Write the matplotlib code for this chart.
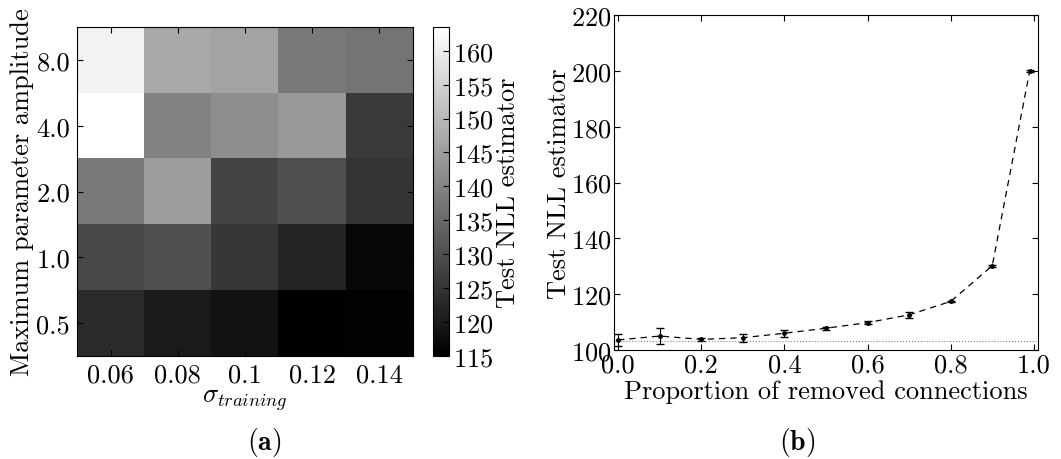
import numpy as np
import matplotlib
matplotlib.use("Agg")
import matplotlib.pyplot as plt

plt.rcParams['font.family'] = 'serif'
plt.rcParams['font.serif'] = ['cmr10']
plt.rcParams['mathtext.fontset'] = 'cm'
plt.rcParams['axes.formatter.use_mathtext'] = True
plt.rcParams['font.size'] = 19

# heatmap data (rows top->bottom: 8.0, 4.0, 2.0, 1.0, 0.5)
sigmas = ['0.06', '0.08', '0.1', '0.12', '0.14']
amplitudes = ['8.0', '4.0', '2.0', '1.0', '0.5']
nll_grid = [
    [161.0, 147.0, 146.0, 138.0, 137.0],
    [163.5, 140.0, 142.0, 144.0, 126.0],
    [138.0, 145.0, 128.0, 130.0, 125.0],
    [128.5, 130.0, 125.5, 122.0, 116.5],
    [123.0, 120.0, 118.5, 115.0, 115.5],
]

# pruning data
removed = [0.0, 0.1, 0.2, 0.3, 0.4, 0.5, 0.6, 0.7, 0.8, 0.9, 0.99]
nll_mean = [103.6, 105.0, 103.8, 104.4, 106.0, 107.8, 109.8, 112.6, 117.4, 130.2, 199.9]
nll_err = [2.1, 3.0, 0.5, 1.4, 1.3, 0.5, 0.5, 1.0, 0.3, 0.3, 0.3]
baseline = 103.4

fig = plt.figure(figsize=(10.61, 4.6), dpi=100)

# (a) heatmap
ax1 = fig.add_axes([77/1061, 1-357/460, 336/1061, 329/460])
im = ax1.imshow(np.array(nll_grid), cmap='gray', vmin=115, vmax=163.5,
                interpolation='nearest', aspect='auto')
ax1.set_xticks(range(len(sigmas)))
ax1.set_xticklabels(sigmas)
ax1.set_yticks(range(len(amplitudes)))
ax1.set_yticklabels(amplitudes)
ax1.set_xlabel(r'$\sigma_{training}$', labelpad=0)
ax1.set_ylabel('Maximum parameter amplitude', labelpad=2)
ax1.tick_params(direction='in', top=True, right=True, length=4, pad=5)

cax = fig.add_axes([433/1061, 1-357/460, 16/1061, 329/460])
cb = fig.colorbar(im, cax=cax, ticks=np.arange(115, 161, 5))
cb.ax.tick_params(direction='in', length=4, pad=3)
cb.outline.set_linewidth(0.8)
cb.set_label('Test NLL estimator', labelpad=2)

# (b) pruning curve
ax2 = fig.add_axes([614/1061, 1-351/460, 424/1061, 335/460])
ax2.errorbar(removed, nll_mean, yerr=nll_err, fmt='o', color='k',
             markersize=2.5, capsize=3, elinewidth=0.8, linestyle='--', linewidth=0.9,
             dashes=(5, 4))
ax2.axhline(baseline, color='gray', linestyle=':', linewidth=0.8)
ax2.set_xlim(-0.01, 1.01)
ax2.set_ylim(100, 220)
ax2.set_xticks([0.0, 0.2, 0.4, 0.6, 0.8, 1.0])
ax2.set_xticklabels(['0.0', '0.2', '0.4', '0.6', '0.8', '1.0'])
ax2.set_yticks(range(100, 221, 20))
ax2.tick_params(direction='in', top=True, right=True, length=4, pad=2)
ax2.set_xlabel('Proportion of removed connections', labelpad=2)
ax2.set_ylabel('Test NLL estimator', labelpad=0)

fig.text(264/1061, 1-443/460, r'$\mathbf{(a)}$', ha='center', va='center', fontsize=20)
fig.text(797/1061, 1-443/460, r'$\mathbf{(b)}$', ha='center', va='center', fontsize=20)

fig.savefig('out.png', dpi=100)
